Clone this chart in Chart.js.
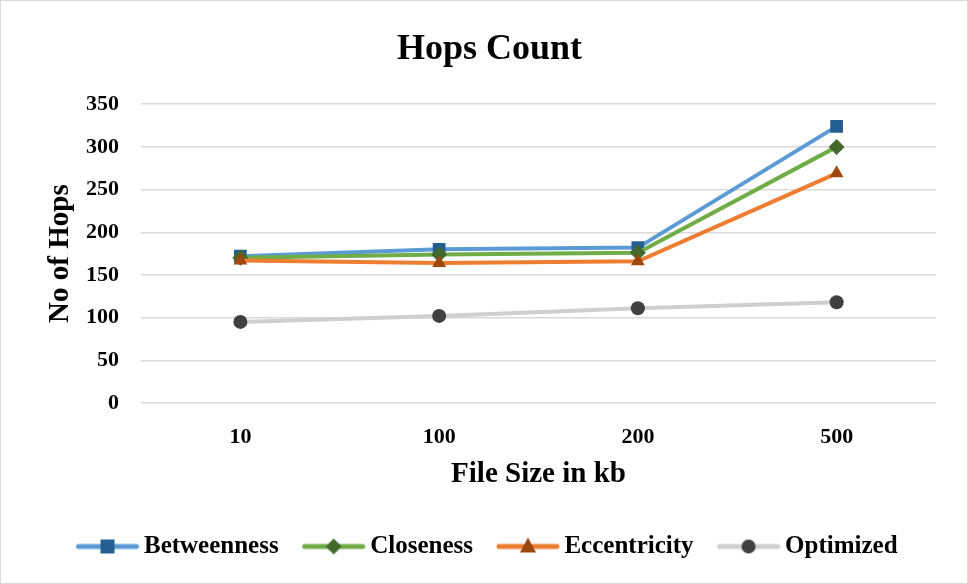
<!DOCTYPE html>
<html>
<head>
<meta charset="utf-8">
<script src="https://cdn.jsdelivr.net/npm/chart.js@4.4.1/dist/chart.umd.min.js"></script>
<style>
  html, body { margin: 0; padding: 0; background: #fff; }
  #wrap { width: 966px; height: 582px; border: 1px solid #d9d9d9; }
</style>
</head>
<body>
<div id="wrap"><canvas id="hopsChart" width="966" height="582"></canvas></div>
<script>
var fileSizes = ['10', '100', '200', '500'];
var betweenness = [172, 180, 182, 324];
var closeness = [170, 174, 176, 300];
var eccentricity = [167, 164, 166, 269];
var optimized = [95, 102, 111, 118];
var yTicks = [0, 50, 100, 150, 200, 250, 300, 350];

var serif = "'Liberation Serif', 'Times New Roman', serif";

// little legend picture: line with the marker on top
// canvas is wider than the legend box so the icon sits close to the text
function legendIcon(lineColor, markColor, shape) {
  var c = document.createElement('canvas');
  c.width = 72; c.height = 20;
  var ctx = c.getContext('2d');
  var cx = 37, cy = 10;
  ctx.strokeStyle = lineColor;
  ctx.lineWidth = 5;
  ctx.lineCap = 'round';
  ctx.beginPath();
  ctx.moveTo(cx - 29, cy); ctx.lineTo(cx + 29, cy);
  ctx.stroke();
  ctx.fillStyle = markColor;
  ctx.beginPath();
  if (shape == 'rect') {
    ctx.rect(cx - 7, cy - 7, 14, 14);
  } else if (shape == 'rectRot') {
    ctx.moveTo(cx, cy - 8); ctx.lineTo(cx + 8, cy); ctx.lineTo(cx, cy + 8); ctx.lineTo(cx - 8, cy);
  } else if (shape == 'triangle') {
    ctx.moveTo(cx, cy - 9); ctx.lineTo(cx + 8, cy + 6); ctx.lineTo(cx - 8, cy + 6);
  } else {
    ctx.arc(cx, cy, 7, 0, Math.PI * 2);
  }
  ctx.closePath();
  ctx.fill();
  return c;
}

function serie(label, data, lineColor, markColor, shape, radius) {
  return {
    label: label,
    data: data,
    borderColor: lineColor,
    backgroundColor: markColor,
    borderWidth: 4,
    pointStyle: shape,
    pointRadius: radius,
    pointHoverRadius: radius,
    pointBorderWidth: 0,
    pointBackgroundColor: markColor,
    tension: 0,
    legendIcon: legendIcon(lineColor, markColor, shape)
  };
}

var datasets = [
  serie('Optimized', optimized, '#cfcfcf', '#404040', 'circle', 7),
  serie('Eccentricity', eccentricity, '#ed7d31', '#9e480e', 'triangle', 8),
  serie('Closeness', closeness, '#70ad47', '#43682b', 'rectRot', 8),
  serie('Betweenness', betweenness, '#5b9bd5', '#255e91', 'rect', 9)
];

new Chart(document.getElementById('hopsChart'), {
  type: 'line',
  data: { labels: fileSizes, datasets: datasets },
  options: {
    responsive: false,
    animation: false,
    layout: { padding: { left: 42, right: 31, top: 27, bottom: 14 } },
    plugins: {
      title: {
        display: true,
        text: 'Hops Count',
        color: '#000',
        font: { family: serif, size: 36, weight: 'bold' },
        padding: { top: 0, bottom: 33 }
      },
      legend: {
        position: 'bottom',
        reverse: true,
        labels: {
          usePointStyle: true,
          pointStyleWidth: 50,
          color: '#000',
          font: { family: serif, size: 25, weight: 'bold' },
          padding: 29,
          generateLabels: function (chart) {
            return chart.data.datasets.map(function (ds, i) {
              return {
                text: ds.label,
                pointStyle: ds.legendIcon,
                fillStyle: ds.backgroundColor,
                strokeStyle: ds.borderColor,
                lineWidth: 0,
                hidden: false,
                fontColor: '#000',
                datasetIndex: i
              };
            });
          }
        }
      },
      tooltip: { enabled: false }
    },
    scales: {
      x: {
        offset: true,
        grid: { display: false },
        border: { display: false },
        afterFit: function (axis) { axis.height = 102; },
        ticks: { color: '#000', padding: 13, font: { family: serif, size: 22, weight: 'bold' } },
        title: {
          display: true,
          text: 'File Size in kb',
          color: '#000',
          font: { family: serif, size: 29, weight: 'bold' },
          padding: { top: 0, bottom: 13 }
        }
      },
      y: {
        min: 0,
        max: 350,
        afterBuildTicks: function (axis) {
          axis.ticks = yTicks.map(function (v) { return { value: v }; });
        },
        afterFit: function (axis) { axis.width = 98; },
        grid: { color: '#d9d9d9', lineWidth: 1.5, drawTicks: false },
        border: { display: false },
        ticks: { color: '#000', padding: 22, font: { family: serif, size: 22, weight: 'bold' } },
        title: {
          display: true,
          text: 'No of Hops',
          color: '#000',
          font: { family: serif, size: 29, weight: 'bold' },
          padding: { top: 0, bottom: 6 }
        }
      }
    }
  }
});
</script>
</body>
</html>
